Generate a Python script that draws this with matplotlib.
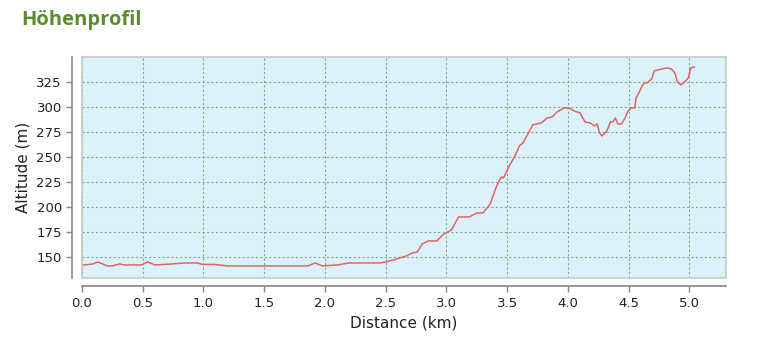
import matplotlib.pyplot as plt
from matplotlib import patches

# elevation profile
distance_km = [0.0, 0.025, 0.09, 0.13, 0.17, 0.21, 0.25, 0.31, 0.35, 0.49, 0.54, 0.60,
               0.74, 0.85, 0.95, 0.99, 1.09, 1.2, 1.59, 1.86, 1.92, 1.98, 2.1, 2.2,
               2.45, 2.5, 2.59, 2.67, 2.72, 2.76, 2.8, 2.85, 2.92, 2.97, 3.01, 3.04,
               3.1, 3.19, 3.25, 3.3, 3.36, 3.38, 3.41, 3.45, 3.47, 3.5, 3.53, 3.56,
               3.6, 3.63, 3.71, 3.78, 3.83, 3.87, 3.91, 3.97, 4.01, 4.05, 4.1, 4.14,
               4.18, 4.22, 4.24, 4.26, 4.28, 4.32, 4.35, 4.37, 4.39, 4.41, 4.44, 4.47,
               4.49, 4.52, 4.55, 4.56, 4.58, 4.61, 4.63, 4.65, 4.69, 4.71, 4.74, 4.81,
               4.85, 4.88, 4.9, 4.93, 4.96, 4.99, 5.01, 5.04]
altitude_m = [142, 142, 143, 145, 143, 141, 141, 143, 142, 142, 145, 142,
              143, 144, 144, 142.5, 142.5, 141, 141, 141, 144, 141, 142, 144,
              144, 145, 148, 151, 154, 155, 163, 166, 166, 172, 175, 177,
              190, 190, 194, 194, 203, 210, 220, 230, 229, 237, 244, 250,
              261, 264, 282, 284, 289, 290, 295, 299, 299, 296, 294, 285,
              284, 281, 283, 274, 271, 276, 285, 285, 289, 283, 283, 289,
              295, 299, 299, 309, 313, 321, 324, 324, 328, 336, 337, 339,
              338, 334, 325, 322, 325, 329, 339, 340]
y_ticks = [150, 175, 200, 225, 250, 275, 300, 325]
x_ticks = [0.0, 0.5, 1.0, 1.5, 2.0, 2.5, 3.0, 3.5, 4.0, 4.5, 5.0]

fig = plt.figure(figsize=(7.74, 3.47), dpi=100)
ax = fig.add_axes([0.1059, 0.199, 0.832, 0.637])
ax.set_facecolor("#dcf2fb")

ax.plot(distance_km, altitude_m, color="#e06464", lw=1.1, zorder=3)

ax.set_xlim(0, 5.3)
ax.set_ylim(129, 350)
ax.set_xticks(x_ticks)
ax.set_yticks(y_ticks)
ax.set_xticklabels([f"{t:.1f}" for t in x_ticks])
ax.grid(True, color="#7aab8a", linestyle=(0, (2, 2)), linewidth=0.8)

for s in ["top", "right"]:
    ax.spines[s].set_visible(False)
ax.spines["left"].set_position(("outward", 7))
ax.spines["bottom"].set_position(("outward", 6))
for s in ["left", "bottom"]:
    ax.spines[s].set_color("#888888")
    ax.spines[s].set_linewidth(1.2)
ax.tick_params(direction="out", length=4, width=1, color="#888888",
               labelsize=9.5, labelcolor="#222222")

# plot area border
ax.add_patch(patches.Rectangle((0, 0), 1, 1, transform=ax.transAxes, fill=False,
                               edgecolor="#c8c8c8", lw=1.2, zorder=4, clip_on=False))

ax.set_xlabel("Distance (km)", fontsize=11, color="#222222", labelpad=4)
ax.set_ylabel("Altitude (m)", fontsize=11, color="#222222", labelpad=4)

fig.text(0.028, 0.97, "Höhenprofil", fontsize=14.5, fontweight="bold",
         color="#5b8c2f", family="Open Sans", va="top", ha="left")

fig.savefig("out.png", dpi=100)
